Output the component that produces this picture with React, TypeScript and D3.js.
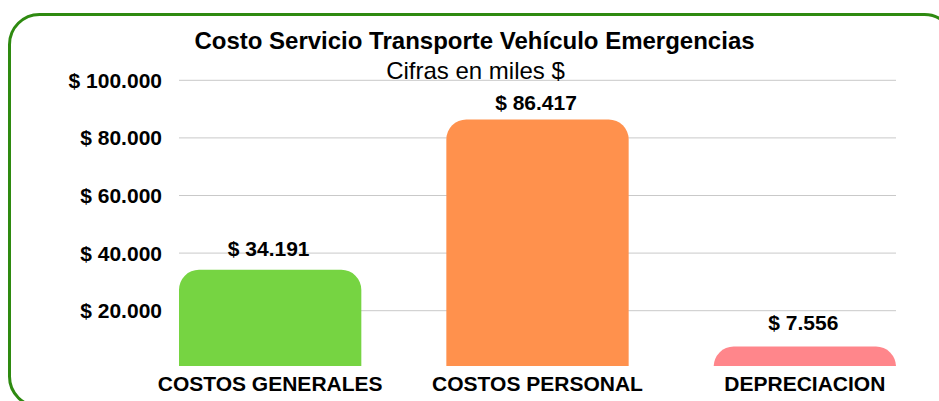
import React from "react";
import * as d3 from "d3";

const categories = ["COSTOS GENERALES", "COSTOS PERSONAL", "DEPRECIACION"];
const values = [34191, 86417, 7556];
const colors = ["#76d442", "#ff914d", "#ff868b"];
const yTicks = [20000, 40000, 60000, 80000, 100000];
const title = "Costo Servicio Transporte Vehículo Emergencias";
const subtitle = "Cifras en miles $";

const W = 939;
const H = 401;
const FONT = "'Liberation Sans', Arial, sans-serif";

const fmt = (v: number) => "$ " + d3.format(",")(v).replace(/,/g, ".");

export default function App() {
  const x = d3
    .scaleBand<string>()
    .domain(categories)
    .range([179, 896])
    .paddingInner(0.318)
    .paddingOuter(0);
  const y = d3.scaleLinear().domain([0, 100000]).range([368.3, 80.3]);
  const labelGap = d3.scaleLinear().domain([0, 100000]).range([17, 8]);
  const bottomClip = 366;
  const r = 20;

  const barPath = (i: number) => {
    const x0 = x(categories[i])!;
    const w = x.bandwidth();
    const top = y(values[i]);
    const bot = y(0);
    const rr = Math.min(r, bot - top, w / 2);
    const p = d3.path();
    p.moveTo(x0, bot);
    p.lineTo(x0, top + rr);
    p.arcTo(x0, top, x0 + rr, top, rr);
    p.lineTo(x0 + w - rr, top);
    p.arcTo(x0 + w, top, x0 + w, top + rr, rr);
    p.lineTo(x0 + w, bot);
    p.closePath();
    return p.toString();
  };

  return (
    <svg
      width={W}
      height={H}
      style={{ position: "absolute", left: 0, top: 0, background: "#fff" }}
      fontFamily={FONT}
    >
      <defs>
        <clipPath id="plotclip">
          <rect x={0} y={0} width={W} height={bottomClip} />
        </clipPath>
      </defs>
      <rect x={0} y={0} width={W} height={H} fill="#fff" />
      <rect
        x={9.5}
        y={14.5}
        width={945}
        height={392}
        rx={30}
        ry={30}
        fill="none"
        stroke="#2e8a10"
        strokeWidth={3}
      />
      {yTicks.map((t) => (
        <g key={t}>
          <line
            x1={x.range()[0]}
            x2={x.range()[1]}
            y1={y(t)}
            y2={y(t)}
            stroke="#c9c9c9"
            strokeWidth={1}
          />
          <text
            x={162}
            y={y(t) + 7.5}
            textAnchor="end"
            fontSize={21}
            fontWeight="bold"
            fill="#000"
          >
            {fmt(t)}
          </text>
        </g>
      ))}
      <text
        x={474.5}
        y={48.5}
        textAnchor="middle"
        fontSize={24}
        fontWeight="bold"
        fill="#000"
      >
        {title}
      </text>
      <text x={475.5} y={78.5} textAnchor="middle" fontSize={24} fill="#000">
        {subtitle}
      </text>
      <g clipPath="url(#plotclip)">
        {categories.map((c, i) => (
          <path key={c} d={barPath(i)} fill={colors[i]} />
        ))}
      </g>
      {categories.map((c, i) => (
        <text
          key={c + "v"}
          x={x(c)! + x.bandwidth() / 2 - 1.5}
          y={y(values[i]) - labelGap(values[i])}
          textAnchor="middle"
          fontSize={21}
          fontWeight="bold"
          fill="#000"
        >
          {fmt(values[i])}
        </text>
      ))}
      {categories.map((c) => (
        <text
          key={c + "l"}
          x={x(c)! + x.bandwidth() / 2}
          y={390.5}
          textAnchor="middle"
          fontSize={21}
          fontWeight="bold"
          fill="#000"
        >
          {c}
        </text>
      ))}
    </svg>
  );
}
